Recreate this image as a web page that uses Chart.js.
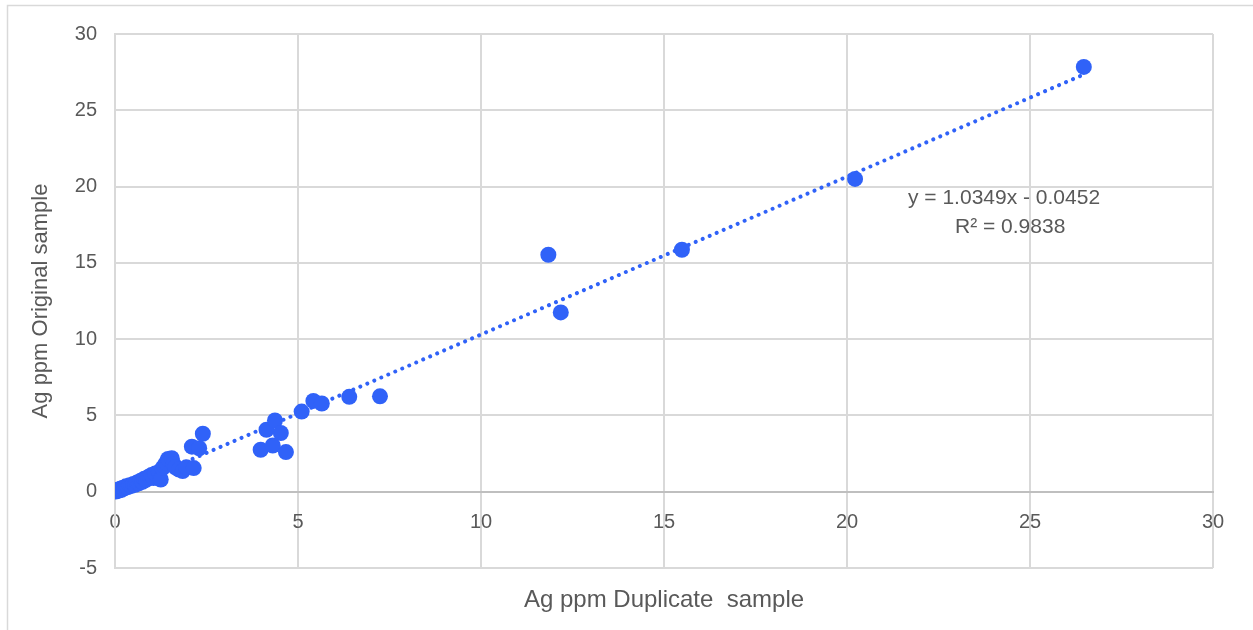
<!DOCTYPE html>
<html>
<head>
<meta charset="utf-8">
<title>Ag ppm – duplicate vs original</title>
<script src="https://cdn.jsdelivr.net/npm/chart.js@4/dist/chart.umd.min.js"></script>
<style>
  html, body { margin: 0; padding: 0; background: #ffffff; }
  #wrap { width: 1253px; height: 630px; }
</style>
</head>
<body>
<div id="wrap"><canvas id="chart" width="1253" height="630"></canvas></div>
<script>
// Ag (ppm): duplicate assay (x) against original assay (y)
const duplicateAg = [
  0.02, 0.05, 0.08, 0.10, 0.12, 0.15, 0.18, 0.20, 0.25, 0.28,
  0.30, 0.35, 0.40, 0.45, 0.50, 0.55, 0.60, 0.65, 0.70, 0.75,
  0.80, 0.85, 0.90, 0.95, 1.00, 1.05, 1.10,
  1.20, 1.25, 1.30, 1.35, 1.40, 1.45, 1.55, 1.60, 1.65, 1.75,
  1.85, 1.95, 2.15, 2.10, 2.30, 2.40,
  3.98, 4.14, 4.31, 4.37, 4.53, 4.67, 5.10, 5.42, 5.65, 6.40, 7.24,
  11.84, 12.18, 15.49, 20.22, 26.47
];
const originalAg = [
  0.01, 0.08, 0.05, 0.15, 0.10, 0.20, 0.12, 0.25, 0.22, 0.30,
  0.35, 0.30, 0.42, 0.38, 0.50, 0.45, 0.60, 0.55, 0.72, 0.65,
  0.85, 0.78, 0.95, 1.00, 1.10, 0.90, 1.20,
  1.30, 0.80, 1.55, 1.70, 1.90, 2.15, 2.20, 1.80, 1.60, 1.45,
  1.35, 1.60, 1.55, 2.95, 2.85, 3.80,
  2.75, 4.06, 3.03, 4.67, 3.85, 2.60, 5.25, 5.95, 5.78, 6.22, 6.25,
  15.53, 11.75, 15.86, 20.50, 27.84
];

// Linear trendline, as stated by its label
const trendSlope = 1.0349;
const trendIntercept = -0.0452;
const trendR2 = 0.9838;

const xTicks = [0, 5, 10, 15, 20, 25, 30];
const yTicks = [-5, 0, 5, 10, 15, 20, 25, 30];

const xTitle = 'Ag ppm Duplicate  sample';
const yTitle = 'Ag ppm Original sample';

const markerBlue = '#3062F8';
const textGrey = '#595959';
const gridGrey = '#d9d9d9';

const points = duplicateAg.map((x, i) => ({ x: x, y: originalAg[i] }));
const xLo = Math.min(...duplicateAg);
const xHi = Math.max(...duplicateAg);
const trendPoints = [
  { x: xLo, y: trendSlope * xLo + trendIntercept },
  { x: xHi, y: trendSlope * xHi + trendIntercept }
];

const fmtSigned = v => (v < 0 ? ' - ' : ' + ') + Math.abs(v).toFixed(4);
const eqLines = [
  'y = ' + trendSlope.toFixed(4) + 'x' + fmtSigned(trendIntercept),
  'R\u00B2 = ' + trendR2.toFixed(4)
];

// Thin frame round the whole chart
const framePlugin = {
  id: 'frame',
  beforeDraw(chart) {
    const ctx = chart.ctx;
    ctx.save();
    ctx.fillStyle = '#ffffff';
    ctx.fillRect(0, 0, chart.width, chart.height);
    ctx.strokeStyle = gridGrey;
    ctx.lineWidth = 1.5;
    ctx.strokeRect(7.5, 5.5, chart.width + 10, chart.height + 10);
    ctx.restore();
  }
};

// Trendline equation and R² label
const equationPlugin = {
  id: 'equation',
  afterDatasetsDraw(chart) {
    const ctx = chart.ctx;
    ctx.save();
    ctx.font = '21px "Liberation Sans", Arial, sans-serif';
    ctx.fillStyle = textGrey;
    ctx.textBaseline = 'middle';
    ctx.textAlign = 'left';
    ctx.fillText(eqLines[0], 908, 198);
    ctx.fillText(eqLines[1], 955, 227);
    ctx.restore();
  }
};

new Chart(document.getElementById('chart'), {
  type: 'scatter',
  data: {
    datasets: [
      {
        label: 'Ag ppm',
        data: points,
        xAxisID: 'x',
        yAxisID: 'y',
        backgroundColor: markerBlue,
        borderWidth: 0,
        pointRadius: 8,
        pointHoverRadius: 8,
        order: 1
      },
      {
        label: 'Linear (Ag ppm)',
        type: 'line',
        data: trendPoints,
        xAxisID: 'x',
        yAxisID: 'y',
        borderColor: markerBlue,
        borderWidth: 4,
        borderDash: [0.01, 7.6],
        borderCapStyle: 'round',
        pointRadius: 0,
        fill: false,
        tension: 0,
        order: 2
      }
    ]
  },
  options: {
    responsive: false,
    animation: false,
    events: [],
    layout: { padding: { top: 34, right: 40, left: 0, bottom: 0 } },
    plugins: {
      legend: { display: false },
      tooltip: { enabled: false }
    },
    scales: {
      x: {
        type: 'linear',
        position: 'bottom',
        min: xTicks[0],
        max: xTicks[xTicks.length - 1],
        afterBuildTicks: s => { s.ticks = xTicks.map(v => ({ value: v })); },
        ticks: { display: false },
        grid: { color: gridGrey, lineWidth: 2, drawTicks: false },
        border: { display: false },
        title: {
          display: true,
          text: xTitle,
          color: textGrey,
          font: { family: '"Liberation Sans", Arial, sans-serif', size: 24 },
          padding: { top: 0, bottom: 15 }
        },
        afterFit: s => { s.height = 62; }
      },
      xZero: {
        type: 'linear',
        axis: 'x',
        position: { y: 0 },
        min: xTicks[0],
        max: xTicks[xTicks.length - 1],
        afterBuildTicks: s => { s.ticks = xTicks.map(v => ({ value: v })); },
        ticks: {
          color: textGrey,
          font: { family: '"Liberation Sans", Arial, sans-serif', size: 20 },
          padding: 19,
          maxRotation: 0,
          autoSkip: false
        },
        grid: { display: false, drawTicks: false },
        border: { display: true, color: '#bfbfbf', width: 2 }
      },
      y: {
        type: 'linear',
        position: 'left',
        min: yTicks[0],
        max: yTicks[yTicks.length - 1],
        afterBuildTicks: s => { s.ticks = yTicks.map(v => ({ value: v })); },
        ticks: {
          color: textGrey,
          font: { family: '"Liberation Sans", Arial, sans-serif', size: 20 },
          padding: 18
        },
        grid: { color: gridGrey, lineWidth: 2, drawTicks: false },
        border: { display: true, color: gridGrey, width: 2 },
        title: {
          display: true,
          text: yTitle,
          color: textGrey,
          font: { family: '"Liberation Sans", Arial, sans-serif', size: 22 },
          padding: { top: 28, bottom: 0 }
        },
        afterFit: s => { s.width = 115; }
      }
    }
  },
  plugins: [framePlugin, equationPlugin]
});
</script>
</body>
</html>
